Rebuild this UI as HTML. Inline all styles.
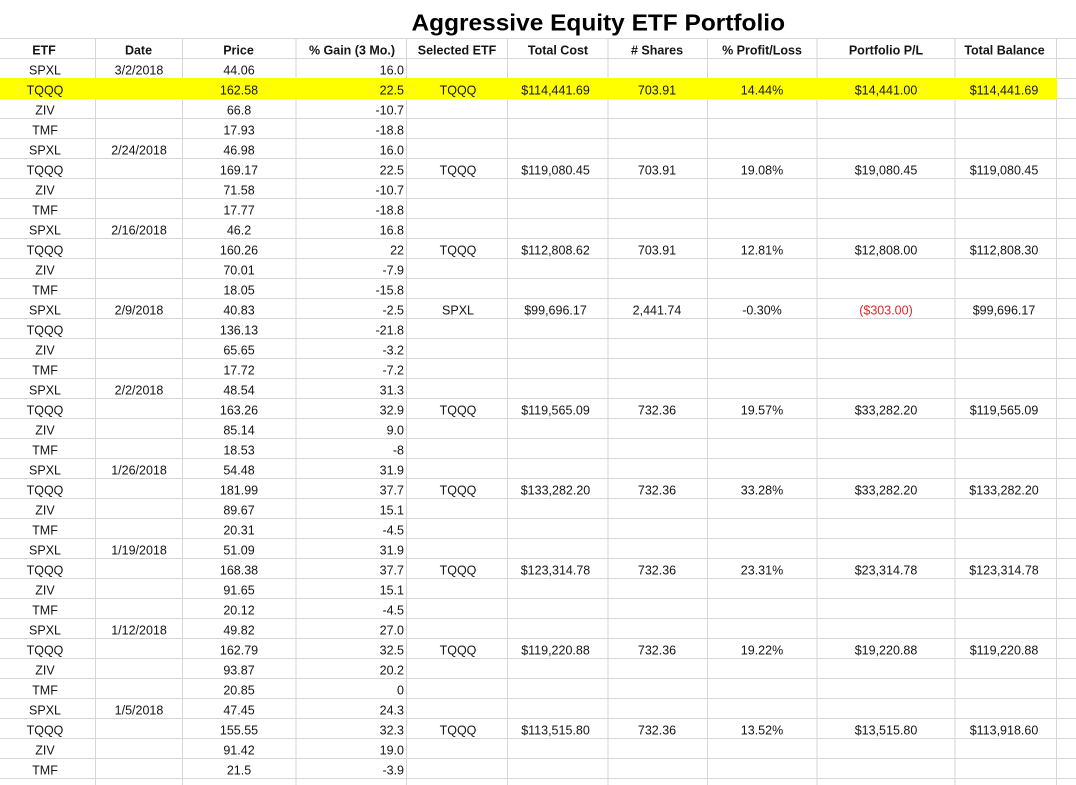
<!DOCTYPE html>
<html>
<head>
<meta charset="utf-8">
<style>
html,body{margin:0;padding:0;background:#fff;}
body{width:1076px;height:785px;overflow:hidden;}
svg{display:block;}
text{font-family:"Liberation Sans",Arial,sans-serif;fill:#151515;}
.b{font-size:12.5px;}
.h{font-size:12.5px;font-weight:bold;}
.m{text-anchor:middle;}
.r{text-anchor:end;}
.red{fill:#e0282e;}
</style>
</head>
<body>
<svg width="1076" height="785" viewBox="0 0 1076 785" xmlns="http://www.w3.org/2000/svg">
<rect x="0" y="0" width="1076" height="785" fill="#fff"/>
<!-- title -->
<text x="411.5" y="30.5" font-size="23" font-weight="bold" textLength="373.5" lengthAdjust="spacingAndGlyphs" style="fill:#000">Aggressive Equity ETF Portfolio</text>
<!-- horizontal grid -->
<g stroke="#d6d6d6" stroke-width="1">
<path d="M0 38.5H1076M0 58.5H1076M0 78.5H1076M0 98.5H1076M0 118.5H1076M0 138.5H1076M0 158.5H1076M0 178.5H1076M0 198.5H1076M0 218.5H1076M0 238.5H1076M0 258.5H1076M0 278.5H1076M0 298.5H1076M0 318.5H1076M0 338.5H1076M0 358.5H1076M0 378.5H1076M0 398.5H1076M0 418.5H1076M0 438.5H1076M0 458.5H1076M0 478.5H1076M0 498.5H1076M0 518.5H1076M0 538.5H1076M0 558.5H1076M0 578.5H1076M0 598.5H1076M0 618.5H1076M0 638.5H1076M0 658.5H1076M0 678.5H1076M0 698.5H1076M0 718.5H1076M0 738.5H1076M0 758.5H1076M0 778.5H1076"/>
<path d="M95.5 38V785M182.5 38V785M296 38V785M406.5 38V785M507.5 38V785M608 38V785M707.5 38V785M817 38V785M955 38V785M1056.5 38V785"/>
</g>
<!-- highlight -->
<rect x="0" y="78" width="1057" height="21" fill="#ffff00"/>

<!-- header -->
<g class="h">
<text class="m" x="44" y="54.3">ETF</text>
<text class="m" x="138.5" y="54.3">Date</text>
<text class="m" x="238.5" y="54.3">Price</text>
<text class="m" x="352" y="54.3">% Gain (3 Mo.)</text>
<text class="m" x="457" y="54.3">Selected ETF</text>
<text class="m" x="558" y="54.3">Total Cost</text>
<text class="m" x="657" y="54.3"># Shares</text>
<text class="m" x="762" y="54.3">% Profit/Loss</text>
<text class="m" x="886" y="54.3">Portfolio P/L</text>
<text class="m" x="1004.5" y="54.3">Total Balance</text>
</g>

<g class="b">
<!-- col A: ETF -->
<g class="m">
<text x="45" y="74.3">SPXL</text><text x="45" y="94.3">TQQQ</text><text x="45" y="114.3">ZIV</text><text x="45" y="134.3">TMF</text>
<text x="45" y="154.3">SPXL</text><text x="45" y="174.3">TQQQ</text><text x="45" y="194.3">ZIV</text><text x="45" y="214.3">TMF</text>
<text x="45" y="234.3">SPXL</text><text x="45" y="254.3">TQQQ</text><text x="45" y="274.3">ZIV</text><text x="45" y="294.3">TMF</text>
<text x="45" y="314.3">SPXL</text><text x="45" y="334.3">TQQQ</text><text x="45" y="354.3">ZIV</text><text x="45" y="374.3">TMF</text>
<text x="45" y="394.3">SPXL</text><text x="45" y="414.3">TQQQ</text><text x="45" y="434.3">ZIV</text><text x="45" y="454.3">TMF</text>
<text x="45" y="474.3">SPXL</text><text x="45" y="494.3">TQQQ</text><text x="45" y="514.3">ZIV</text><text x="45" y="534.3">TMF</text>
<text x="45" y="554.3">SPXL</text><text x="45" y="574.3">TQQQ</text><text x="45" y="594.3">ZIV</text><text x="45" y="614.3">TMF</text>
<text x="45" y="634.3">SPXL</text><text x="45" y="654.3">TQQQ</text><text x="45" y="674.3">ZIV</text><text x="45" y="694.3">TMF</text>
<text x="45" y="714.3">SPXL</text><text x="45" y="734.3">TQQQ</text><text x="45" y="754.3">ZIV</text><text x="45" y="774.3">TMF</text>
<text x="45" y="794.3">SPXL</text>
</g>
<!-- col B: Date -->
<g class="m">
<text x="139" y="74.3">3/2/2018</text>
<text x="139" y="154.3">2/24/2018</text>
<text x="139" y="234.3">2/16/2018</text>
<text x="139" y="314.3">2/9/2018</text>
<text x="139" y="394.3">2/2/2018</text>
<text x="139" y="474.3">1/26/2018</text>
<text x="139" y="554.3">1/19/2018</text>
<text x="139" y="634.3">1/12/2018</text>
<text x="139" y="714.3">1/5/2018</text>
<text x="139" y="794.3">12/29/2017</text>
</g>
<!-- col C: Price -->
<g class="m">
<text x="239" y="74.3">44.06</text><text x="239" y="94.3">162.58</text><text x="239" y="114.3">66.8</text><text x="239" y="134.3">17.93</text>
<text x="239" y="154.3">46.98</text><text x="239" y="174.3">169.17</text><text x="239" y="194.3">71.58</text><text x="239" y="214.3">17.77</text>
<text x="239" y="234.3">46.2</text><text x="239" y="254.3">160.26</text><text x="239" y="274.3">70.01</text><text x="239" y="294.3">18.05</text>
<text x="239" y="314.3">40.83</text><text x="239" y="334.3">136.13</text><text x="239" y="354.3">65.65</text><text x="239" y="374.3">17.72</text>
<text x="239" y="394.3">48.54</text><text x="239" y="414.3">163.26</text><text x="239" y="434.3">85.14</text><text x="239" y="454.3">18.53</text>
<text x="239" y="474.3">54.48</text><text x="239" y="494.3">181.99</text><text x="239" y="514.3">89.67</text><text x="239" y="534.3">20.31</text>
<text x="239" y="554.3">51.09</text><text x="239" y="574.3">168.38</text><text x="239" y="594.3">91.65</text><text x="239" y="614.3">20.12</text>
<text x="239" y="634.3">49.82</text><text x="239" y="654.3">162.79</text><text x="239" y="674.3">93.87</text><text x="239" y="694.3">20.85</text>
<text x="239" y="714.3">47.45</text><text x="239" y="734.3">155.55</text><text x="239" y="754.3">91.42</text><text x="239" y="774.3">21.5</text>
</g>
<!-- col D: % Gain -->
<g class="r">
<text x="404" y="74.3">16.0</text><text x="404" y="94.3">22.5</text><text x="404" y="114.3">-10.7</text><text x="404" y="134.3">-18.8</text>
<text x="404" y="154.3">16.0</text><text x="404" y="174.3">22.5</text><text x="404" y="194.3">-10.7</text><text x="404" y="214.3">-18.8</text>
<text x="404" y="234.3">16.8</text><text x="404" y="254.3">22</text><text x="404" y="274.3">-7.9</text><text x="404" y="294.3">-15.8</text>
<text x="404" y="314.3">-2.5</text><text x="404" y="334.3">-21.8</text><text x="404" y="354.3">-3.2</text><text x="404" y="374.3">-7.2</text>
<text x="404" y="394.3">31.3</text><text x="404" y="414.3">32.9</text><text x="404" y="434.3">9.0</text><text x="404" y="454.3">-8</text>
<text x="404" y="474.3">31.9</text><text x="404" y="494.3">37.7</text><text x="404" y="514.3">15.1</text><text x="404" y="534.3">-4.5</text>
<text x="404" y="554.3">31.9</text><text x="404" y="574.3">37.7</text><text x="404" y="594.3">15.1</text><text x="404" y="614.3">-4.5</text>
<text x="404" y="634.3">27.0</text><text x="404" y="654.3">32.5</text><text x="404" y="674.3">20.2</text><text x="404" y="694.3">0</text>
<text x="404" y="714.3">24.3</text><text x="404" y="734.3">32.3</text><text x="404" y="754.3">19.0</text><text x="404" y="774.3">-3.9</text>
</g>
<!-- portfolio columns -->
<g class="m">
<text x="458" y="94.3">TQQQ</text><text x="555.5" y="94.3">$114,441.69</text><text x="657" y="94.3">703.91</text><text x="762" y="94.3">14.44%</text><text x="886" y="94.3">$14,441.00</text><text x="1004" y="94.3">$114,441.69</text>
<text x="458" y="174.3">TQQQ</text><text x="555.5" y="174.3">$119,080.45</text><text x="657" y="174.3">703.91</text><text x="762" y="174.3">19.08%</text><text x="886" y="174.3">$19,080.45</text><text x="1004" y="174.3">$119,080.45</text>
<text x="458" y="254.3">TQQQ</text><text x="555.5" y="254.3">$112,808.62</text><text x="657" y="254.3">703.91</text><text x="762" y="254.3">12.81%</text><text x="886" y="254.3">$12,808.00</text><text x="1004" y="254.3">$112,808.30</text>
<text x="458" y="314.3">SPXL</text><text x="555.5" y="314.3">$99,696.17</text><text x="657" y="314.3">2,441.74</text><text x="762" y="314.3">-0.30%</text><text class="red" x="886" y="314.3">($303.00)</text><text x="1004" y="314.3">$99,696.17</text>
<text x="458" y="414.3">TQQQ</text><text x="555.5" y="414.3">$119,565.09</text><text x="657" y="414.3">732.36</text><text x="762" y="414.3">19.57%</text><text x="886" y="414.3">$33,282.20</text><text x="1004" y="414.3">$119,565.09</text>
<text x="458" y="494.3">TQQQ</text><text x="555.5" y="494.3">$133,282.20</text><text x="657" y="494.3">732.36</text><text x="762" y="494.3">33.28%</text><text x="886" y="494.3">$33,282.20</text><text x="1004" y="494.3">$133,282.20</text>
<text x="458" y="574.3">TQQQ</text><text x="555.5" y="574.3">$123,314.78</text><text x="657" y="574.3">732.36</text><text x="762" y="574.3">23.31%</text><text x="886" y="574.3">$23,314.78</text><text x="1004" y="574.3">$123,314.78</text>
<text x="458" y="654.3">TQQQ</text><text x="555.5" y="654.3">$119,220.88</text><text x="657" y="654.3">732.36</text><text x="762" y="654.3">19.22%</text><text x="886" y="654.3">$19,220.88</text><text x="1004" y="654.3">$119,220.88</text>
<text x="458" y="734.3">TQQQ</text><text x="555.5" y="734.3">$113,515.80</text><text x="657" y="734.3">732.36</text><text x="762" y="734.3">13.52%</text><text x="886" y="734.3">$13,515.80</text><text x="1004" y="734.3">$113,918.60</text>
</g>
</g>
</svg>
</body>
</html>
